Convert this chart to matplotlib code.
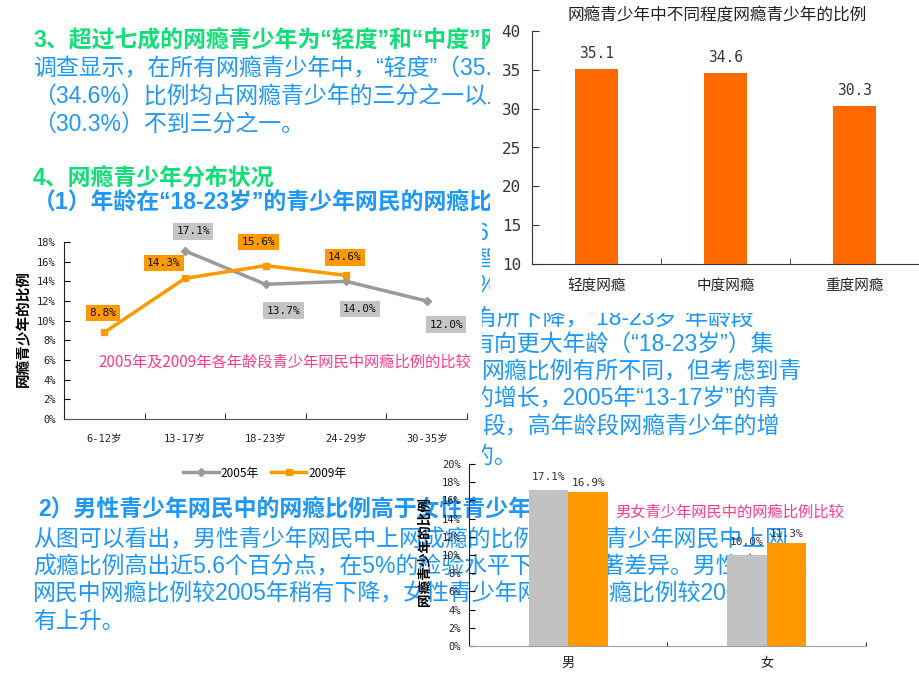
import matplotlib
matplotlib.use('Agg')
import matplotlib.pyplot as plt
from matplotlib.patches import Rectangle, Patch
import numpy as np

plt.rcParams['font.family'] = ['Noto Sans CJK SC', 'DejaVu Sans']

# ---------------- data ----------------
degree_cats = ['轻度网瘾', '中度网瘾', '重度网瘾']
degree_vals = [35.1, 34.6, 30.3]
degree_ticks = [10, 15, 20, 25, 30, 35, 40]

age_cats = ['6-12岁', '13-17岁', '18-23岁', '24-29岁', '30-35岁']
age_2005 = [np.nan, 17.1, 13.7, 14.0, 12.0]
age_2009 = [8.8, 14.3, 15.6, 14.6, np.nan]
age_ticks = [0, 2, 4, 6, 8, 10, 12, 14, 16, 18]

sex_cats = ['男', '女']
sex_2005 = [17.1, 10.0]
sex_2009 = [16.9, 11.3]
sex_ticks = [0, 2, 4, 6, 8, 10, 12, 14, 16, 18, 20]

series_names = ['2005年', '2009年']

# label offsets (points) for line chart data labels
off_2005 = [None, (6, 14), (13, -19), (10, -20), (14, -17)]
off_2009 = [(-1, 14), (-15, 11), (-5, 17), (-1, 13), None]

# ---------------- layout helpers ----------------
W, H = 920, 690
fig = plt.figure(figsize=(9.2, 6.9), dpi=100)


def fx(x):
    return x / W


def fy(y):
    return 1 - y / H


def rect(x0, y0, x1, y1):
    return [x0 / W, 1 - y1 / H, (x1 - x0) / W, (y1 - y0) / H]


GREEN = '#10DF78'
BLUE = '#1E98F8'
PINK = '#FF3B8A'
MONO = ['DejaVu Sans Mono', 'Noto Sans CJK SC']
BODY = ['Liberation Sans', 'Noto Sans CJK SC']


def T(x, y, s, color=BLUE, size=16.5, weight='normal', z=1):
    fig.text(fx(x), fy(y), s, color=color, fontsize=size, fontweight=weight,
             family=BODY, ha='left', va='center', zorder=z)


# ---------------- slide text (behind the pictures) ----------------
T(33, 41, '3、超过七成的网瘾青少年为“轻度”和“中度”网瘾', GREEN, 16.5, 'bold')
T(33, 69, '调查显示，在所有网瘾青少年中，“轻度”（35.1%）和“中度”')
T(33, 97, '（34.6%）比例均占网瘾青少年的三分之一以上，“重度”')
T(33, 124, '（30.3%）不到三分之一。')
T(33, 179, '4、网瘾青少年分布状况', GREEN, 16.5, 'bold')
T(33, 203, '（1）年龄在“18-23岁”的青少年网民的网瘾比例最高', BLUE, 16.5, 'bold')

T(476, 233, '6')
T(474, 259, '智')
T(476, 286, '%')
T(474, 319, '有所下降，“18-23岁”年龄段')
T(471, 345, '有向更大年龄（“18-23岁”）集')
T(482, 372, '网瘾比例有所不同，但考虑到青')
T(471, 399, '的增长，2005年“13-17岁”的青')
T(482, 427, '段，高年龄段网瘾青少年的增')
T(471, 456, '的。')

T(38, 510, '2）男性青少年网民中的网瘾比例高于女性青少年网民', BLUE, 16.5, 'bold')
T(33, 540, '从图可以看出，男性青少年网民中上网成瘾的比例比女性青少年网民中上网')
T(33, 567, '成瘾比例高出近5.6个百分点，在5%的检验水平下具有显著差异。男性青少年')
T(33, 594, '网民中网瘾比例较2005年稍有下降，女性青少年网民中网瘾比例较2005年稍')
T(33, 622, '有上升。')

# white backings of the two opaque pictures
fig.patches.append(Rectangle((fx(490), fy(313)), (920 - 490) / W, 313 / H,
                             transform=fig.transFigure, facecolor='white',
                             edgecolor='none', zorder=2))
fig.patches.append(Rectangle((0, fy(487)), 482 / W, (487 - 220) / H,
                             transform=fig.transFigure, facecolor='white',
                             edgecolor='none', zorder=2))

# ---------------- chart 1: degree bar chart ----------------
ax1 = fig.add_axes(rect(532, 31, 919, 264))
ax1.set_zorder(3)
ax1.patch.set_visible(False)
x1 = np.arange(len(degree_cats))
ax1.bar(x1, degree_vals, width=0.33, color='#FF6A00', edgecolor='none')
ax1.set_xlim(-0.5, len(degree_cats) - 0.5)
ax1.set_ylim(10, 40)
ax1.set_yticks(degree_ticks)
ax1.set_yticklabels([str(t) for t in degree_ticks], family=MONO, fontsize=11.5, color='#333344')
ax1.set_xticks(x1)
ax1.set_xticklabels(degree_cats, fontsize=10.5, color='#222222')
ax1.set_xticks([0.5, 1.5, 2.5], minor=True)
ax1.tick_params(axis='y', direction='in', length=5, pad=8, color='#333344')
ax1.tick_params(axis='x', which='major', length=0, pad=11)
ax1.tick_params(axis='x', which='minor', direction='in', length=4, color='#333344')
for s in ['top', 'right']:
    ax1.spines[s].set_visible(False)
for s in ['left', 'bottom']:
    ax1.spines[s].set_color('#333344')
for i, v in enumerate(degree_vals):
    ax1.annotate(f'{v}', (i, v), xytext=(0, 6), textcoords='offset points',
                 ha='center', va='bottom', fontsize=10.5, family=MONO, color='#333344')
fig.text(fx(717), fy(16), '网瘾青少年中不同程度网瘾青少年的比例', ha='center', va='center',
         fontsize=12, color='#222222', zorder=5)

# ---------------- chart 2: age line chart ----------------
ax2 = fig.add_axes(rect(64, 242, 467, 419))
ax2.set_zorder(3)
ax2.patch.set_visible(False)
x2 = np.arange(len(age_cats))
l05, = ax2.plot(x2, age_2005, color='#9A9A9A', lw=2.5, marker='D', ms=4, label=series_names[0])
l09, = ax2.plot(x2, age_2009, color='#FF9900', lw=2.5, marker='s', ms=5, label=series_names[1])
ax2.set_xlim(-0.5, len(age_cats) - 0.5)
ax2.set_ylim(0, 18)
ax2.set_yticks(age_ticks)
ax2.set_yticklabels([f'{t}%' for t in age_ticks], family=MONO, fontsize=7.5, color='#222222')
ax2.set_xticks(x2)
ax2.set_xticklabels(age_cats, family=MONO, fontsize=7.5, color='#222222')
ax2.set_xticks(np.arange(0.5, len(age_cats), 1.0), minor=True)
ax2.tick_params(axis='y', direction='in', length=4, pad=6)
ax2.tick_params(axis='x', which='major', length=0, pad=10)
ax2.tick_params(axis='x', which='minor', direction='in', length=4)
for s in ['top', 'right']:
    ax2.spines[s].set_visible(False)
ax2.spines['left'].set_color('#222222')
ax2.spines['bottom'].set_color('#555555')
for i, v in enumerate(age_2005):
    if off_2005[i] is not None:
        ax2.annotate(f'{v:.1f}%', (i, v), xytext=off_2005[i], textcoords='offset points',
                     ha='center', va='center', fontsize=8, family=MONO, color='#111111',
                     bbox=dict(boxstyle='square,pad=0.3', fc='#C4C4C4', ec='none'))
for i, v in enumerate(age_2009):
    if off_2009[i] is not None:
        ax2.annotate(f'{v:.1f}%', (i, v), xytext=off_2009[i], textcoords='offset points',
                     ha='center', va='center', fontsize=8, family=MONO, color='#111111',
                     bbox=dict(boxstyle='square,pad=0.3', fc='#FF9900', ec='none'))
ax2.legend(handles=[l05, l09], loc='center', bbox_to_anchor=(fx(265), fy(473)),
           bbox_transform=fig.transFigure, ncol=2, frameon=False, fontsize=8.5,
           handlelength=3, columnspacing=1.0, handletextpad=0.2)
fig.text(fx(23), fy(328), '网瘾青少年的比例', rotation=90, fontweight='bold', fontsize=10.5,
         ha='center', va='center', zorder=5)
fig.text(fx(98), fy(362), '2005年及2009年各年龄段青少年网民中网瘾比例的比较', color=PINK,
         fontsize=11, ha='left', va='center', zorder=5)

# ---------------- chart 3: gender bar chart (transparent picture) ----------------
ax3 = fig.add_axes(rect(469, 464, 866, 646))
ax3.set_zorder(3)
ax3.patch.set_visible(False)
x3 = np.arange(len(sex_cats))
ax3.bar(x3 - 0.1, sex_2005, width=0.2, color='#C2C2C2', edgecolor='none')
ax3.bar(x3 + 0.1, sex_2009, width=0.2, color='#FF9900', edgecolor='none')
ax3.set_xlim(-0.5, len(sex_cats) - 0.5)
ax3.set_ylim(0, 20)
ax3.set_yticks(sex_ticks)
ax3.set_yticklabels([f'{t}%' for t in sex_ticks], family=MONO, fontsize=7.5, color='#222222')
ax3.set_xticks(x3)
ax3.set_xticklabels(sex_cats, fontsize=9.5, color='#222222')
ax3.set_xticks([0.5, 1.5], minor=True)
ax3.tick_params(axis='y', direction='in', length=4, pad=6)
ax3.tick_params(axis='x', which='major', length=0, pad=8)
ax3.tick_params(axis='x', which='minor', direction='in', length=3)
for s in ['top', 'right']:
    ax3.spines[s].set_visible(False)
ax3.spines['left'].set_color('#222222')
ax3.spines['bottom'].set_color('#9A9A9A')
for i, v in enumerate(sex_2005):
    ax3.annotate(f'{v:.1f}%', (i - 0.1, v), xytext=(0, 6), textcoords='offset points',
                 ha='center', va='bottom', fontsize=8, family=MONO, color='#333333')
for i, v in enumerate(sex_2009):
    ax3.annotate(f'{v:.1f}%', (i + 0.1, v), xytext=(0, 3), textcoords='offset points',
                 ha='center', va='bottom', fontsize=8, family=MONO, color='#333333')
ax3.legend(handles=[Patch(color='#C2C2C2'), Patch(color='#FF9900')], labels=series_names,
           loc='upper center', bbox_to_anchor=(fx(670), fy(686)), bbox_transform=fig.transFigure,
           ncol=2, frameon=False, fontsize=9, borderpad=0, handlelength=1.2)
fig.text(fx(425), fy(552), '网瘾青少年的比例', rotation=90, fontweight='bold', fontsize=9.8,
         ha='center', va='center', zorder=5)
fig.text(fx(615), fy(512), '男女青少年网民中的网瘾比例比较', color=PINK, fontsize=11,
         ha='left', va='center', zorder=5)

fig.savefig('out.png', dpi=100)
